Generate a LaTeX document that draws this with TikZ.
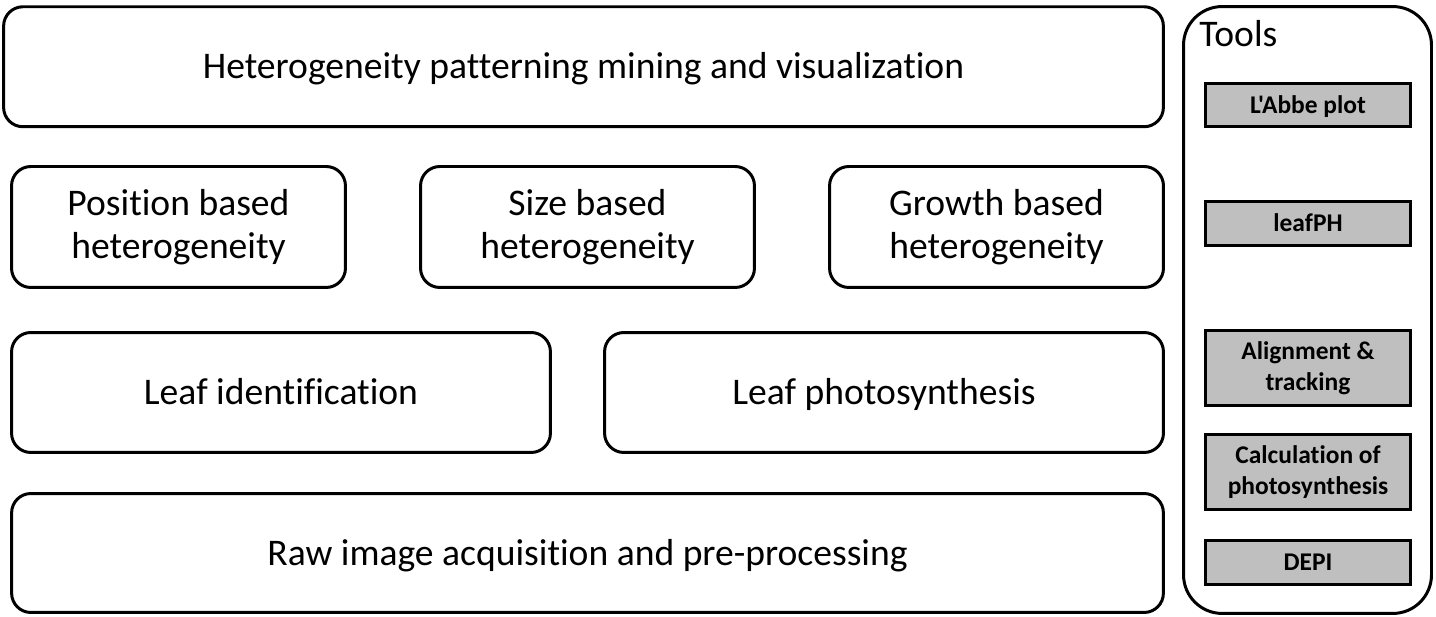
\documentclass[tikz,border=0pt]{standalone}
\usepackage{fontspec}
\newfontfamily\calibri{Carlito}[Ligatures=NoCommon]
\begin{document}
\begin{tikzpicture}[
    x=0.02cm, y=-0.02cm,
    layer/.style   = {draw, line width=1.7pt, rounded corners=11pt, align=center,
                      inner sep=0pt, font=\calibri\fontsize{21.4}{24.4}\selectfont},
    oneline/.style = {text height=#1, text depth=0pt},
    tool/.style    = {draw, line width=1.7pt, fill=black!25, align=center,
                      inner sep=0pt, minimum width=4.1cm,
                      font=\calibri\fontsize{14.5}{17.6}\selectfont\bfseries},
  ]
	\useasboundingbox (0,0) rectangle (1436,617);
	
	% Schichten
	\node (mining) at (583.5,66.75) [layer, oneline=13.8pt, minimum width=23.2cm, minimum height=2.4cm]
	  {Heterogeneity patterning mining and visualization};
	\node (position) at (178.5,227) [layer, minimum width=6.68cm, minimum height=2.42cm]
	  {Position based\\heterogeneity};
	\node (size) at (587.5,227) [layer, minimum width=6.68cm, minimum height=2.42cm]
	  {Size based\\heterogeneity};
	\node (growth) at (996.5,227) [layer, minimum width=6.68cm, minimum height=2.42cm]
	  {Growth based\\heterogeneity};
	\node (leafid) at (281,392.5) [layer, oneline=13.8pt, minimum width=10.78cm, minimum height=2.4cm]
	  {Leaf identification};
	\node (leafps) at (884,392.5) [layer, oneline=13.8pt, minimum width=11.18cm, minimum height=2.4cm]
	  {Leaf photosynthesis};
	\node (raw) at (587.5,553) [layer, oneline=13.8pt, minimum width=23.04cm, minimum height=2.38cm]
	  {Raw image acquisition and pre-processing};
	
	% Werkzeuge
	\node (tools) at (1307.5,310) [draw, line width=1.7pt, rounded corners=22pt,
	  minimum width=4.96cm, minimum height=12.14cm] {};
	\node (toolstitle) at (1199,47) [anchor=base west, inner sep=0pt,
	  font=\calibri\fontsize{21.4}{24.4}\selectfont] {Tools};
	\node (labbe) at (1308,105) [tool, oneline=9.3pt, minimum height=0.86cm] {L'Abbe plot};
	\node (leafph) at (1308,223.5) [tool, oneline=9.3pt, minimum height=0.88cm] {leafPH};
	\node (align) at (1308,368) [tool, minimum height=1.5cm] {Alignment \&\\tracking};
	\node (calc) at (1308,472) [tool, minimum height=1.5cm] {Calculation of\\photosynthesis};
	\node (depi) at (1308,562.5) [tool, oneline=9.3pt, minimum height=0.88cm] {DEPI};
\end{tikzpicture}
\end{document}
